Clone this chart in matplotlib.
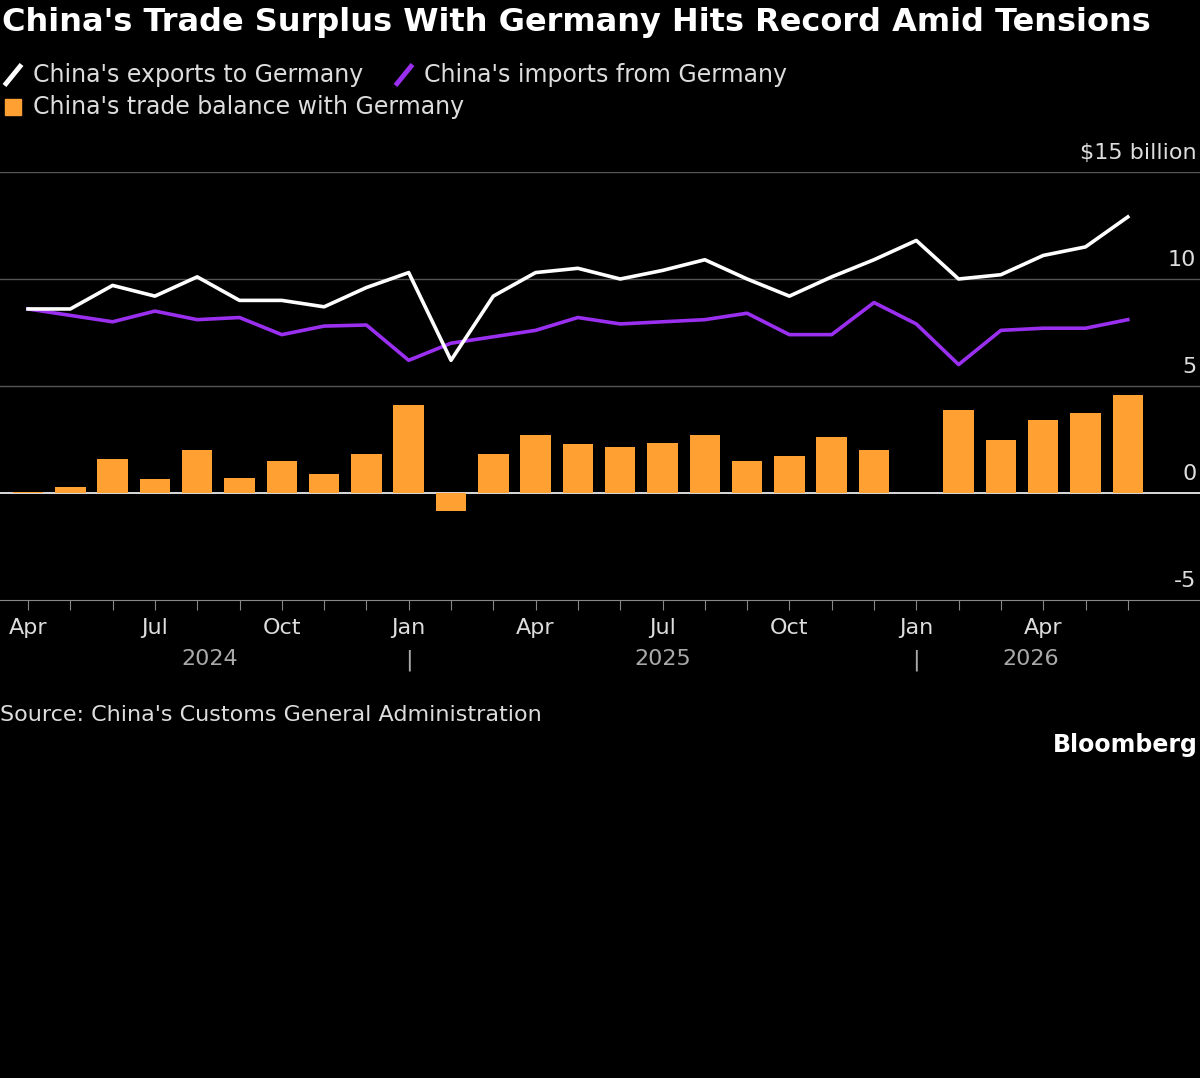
import numpy as np
import matplotlib.pyplot as plt

plt.rcParams['font.family'] = ['DejaVu Sans']

months = ["Apr", "May", "Jun", "Jul", "Aug", "Sep", "Oct", "Nov", "Dec",
          "Jan", "Feb", "Mar", "Apr", "May", "Jun", "Jul", "Aug", "Sep", "Oct", "Nov", "Dec",
          "Jan", "Feb", "Mar", "Apr", "May", "Jun"]
exports = [8.6, 8.6, 9.7, 9.2, 10.1, 9.0, 9.0, 8.7, 9.6,
           10.3, 6.2, 9.2, 10.3, 10.5, 10.0, 10.4, 10.9, 10.0, 9.2, 10.1, 10.9,
           11.8, 10.0, 10.2, 11.1, 11.5, 12.9]
imports = [8.6, 8.3, 8.0, 8.5, 8.1, 8.2, 7.4, 7.8, 7.85,
           6.2, 7.0, 7.3, 7.6, 8.2, 7.9, 8.0, 8.1, 8.4, 7.4, 7.4, 8.9,
           7.9, 6.0, 7.6, 7.7, 7.7, 8.1]
balance = [0.05, 0.3, 1.6, 0.65, 2.0, 0.7, 1.5, 0.9, 1.8,
           4.1, -0.85, 1.8, 2.7, 2.3, 2.15, 2.35, 2.7, 1.5, 1.75, 2.6, 2.0,
           np.nan, 3.9, 2.5, 3.4, 3.75, 4.6]
yticks = [-5, 0, 5, 10, 15]
ytick_labels = ["-5", "0", "5", "10", "$15 billion"]

WHITE = "#ffffff"
PURPLE = "#9a2ff0"
ORANGE = "#ffa033"
GRID = "#555555"

fig = plt.figure(figsize=(12, 10.78), dpi=100, facecolor="black")
ax = fig.add_axes([0, 1 - 600 / 1078, 1, (600 - 172) / 1078])
ax.set_facecolor("black")

x = np.arange(len(months))
ax.bar(x, balance, width=0.72, color=ORANGE, zorder=2)
ax.plot(x, imports, color=PURPLE, lw=2.6, zorder=3)
ax.plot(x, exports, color=WHITE, lw=2.6, zorder=4)

ax.set_xlim(-28 / 42.3, (1200 - 28) / 42.3)
ax.set_ylim(-5, 15)
for v, lab in zip(yticks, ytick_labels):
    if v != -5:
        ax.axhline(v, color=WHITE if v == 0 else GRID, lw=1.2 if v == 0 else 1, zorder=1)
    ax.text(0.997, v + 0.4, lab, transform=ax.get_yaxis_transform(), ha="right", va="bottom",
            color="#dddddd", fontsize=16)

for s in ["top", "right", "left"]:
    ax.spines[s].set_visible(False)
ax.spines["bottom"].set_color("#888888")
ax.set_yticks([])
ax.set_xticks(x)
ax.set_xticklabels([m if m in ("Apr", "Jul", "Oct", "Jan") else "" for m in months],
                   color="#dddddd", fontsize=16)
ax.tick_params(axis="x", colors="#888888", length=7, labelcolor="#dddddd", pad=6)

for xi, yr in [(4.3, "2024"), (15, "2025"), (23.7, "2026")]:
    ax.text(xi, -0.115, yr, transform=ax.get_xaxis_transform(), ha="center", va="top",
            color="#aaaaaa", fontsize=16)
for xi in [9, 21]:
    ax.text(xi, -0.115, "|", transform=ax.get_xaxis_transform(), ha="center", va="top",
            color="#aaaaaa", fontsize=16)

fig.text(0.002, 1 - 22 / 1078, "China's Trade Surplus With Germany Hits Record Amid Tensions",
         color="white", fontsize=23, fontweight="bold", va="center", ha="left")

def legend_item(px, py, color, label, line=True):
    yy = 1 - py / 1078
    if line:
        fig.add_artist(plt.Line2D([(px - 7) / 1200, (px + 7) / 1200], [yy - 0.008, yy + 0.008],
                                  color=color, lw=3.5, transform=fig.transFigure))
    else:
        fig.add_artist(plt.Rectangle(((px - 8) / 1200, yy - 0.0075), 16 / 1200, 0.015,
                                     color=color, transform=fig.transFigure))
    fig.text((px + 20) / 1200, yy, label, color="#dddddd", fontsize=17, va="center")

legend_item(13, 75, WHITE, "China's exports to Germany")
legend_item(404, 75, PURPLE, "China's imports from Germany")
legend_item(13, 107, ORANGE, "China's trade balance with Germany", line=False)

fig.text(0.0, 1 - 715 / 1078, "Source: China's Customs General Administration",
         color="#dddddd", fontsize=16, va="center")
fig.text(0.998, 1 - 745 / 1078, "Bloomberg", color="white", fontsize=17,
         fontweight="bold", va="center", ha="right")

fig.savefig("out.png", facecolor="black")
